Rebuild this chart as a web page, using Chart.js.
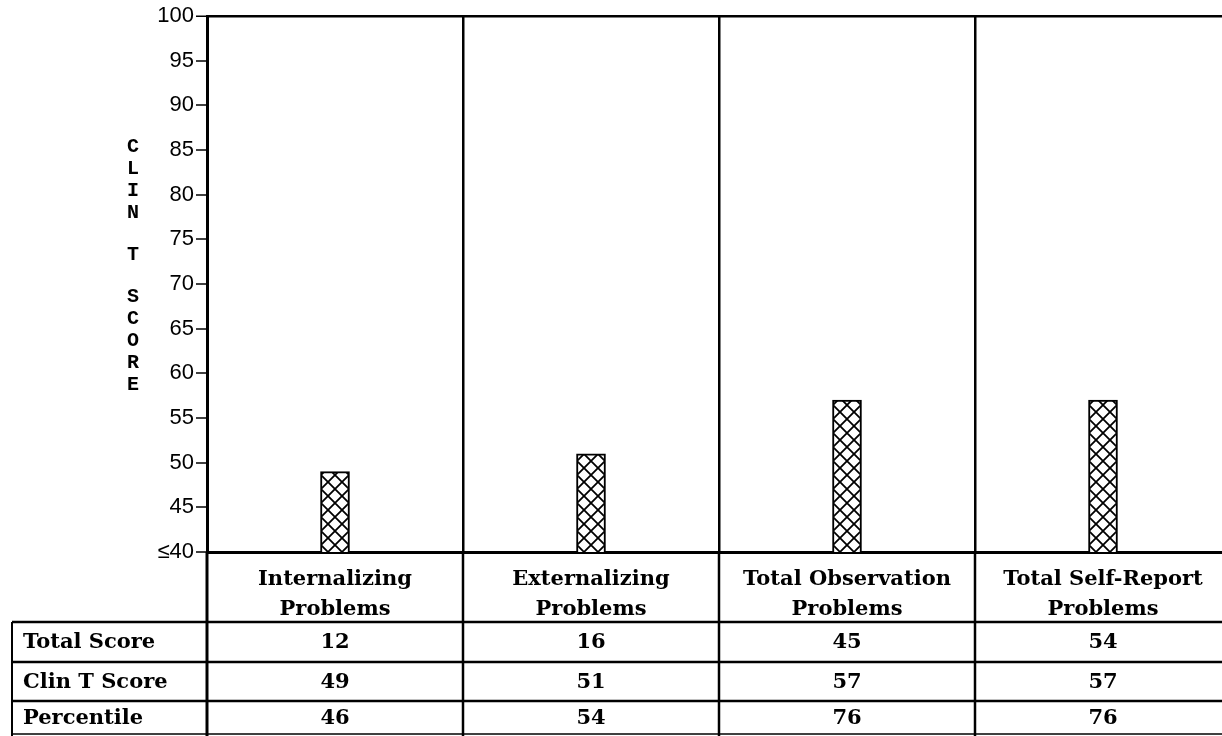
<!DOCTYPE html>
<html>
<head>
<meta charset="utf-8">
<script src="https://cdn.jsdelivr.net/npm/chart.js@4/dist/chart.umd.min.js"></script>
<style>
  html, body { margin: 0; padding: 0; background: #fff; overflow: hidden; }
  #wrap { width: 1231px; height: 736px; position: relative; }
</style>
</head>
<body>
<div id="wrap"><canvas id="chart"></canvas></div>
<script>
// chart data
const categories = [
  ["Internalizing", "Problems"],
  ["Externalizing", "Problems"],
  ["Total Observation", "Problems"],
  ["Total Self-Report", "Problems"]
];
const clinTScores = [49, 51, 57, 57];
const totalScores = [12, 16, 45, 54];
const percentiles = [46, 54, 76, 76];
const rowLabels = ["Total Score", "Clin T Score", "Percentile"];
const yTitle = "CLIN T SCORE";
const yMin = 40;
const yMax = 100;
const yStep = 5;

const serifBold = "bold 21px 'DejaVu Serif'";

// cross hatch tile for the bars
const hatch = document.createElement("canvas");
hatch.width = 14;
hatch.height = 14;
(function () {
  const g = hatch.getContext("2d");
  g.fillStyle = "#fff";
  g.fillRect(0, 0, 14, 14);
  g.strokeStyle = "#000";
  g.lineWidth = 1.8;
  g.beginPath();
  g.moveTo(0, 0); g.lineTo(14, 14);
  g.moveTo(14, 0); g.lineTo(0, 14);
  g.stroke();
})();

const hatchFill = (c) => {
  const chart = c.chart;
  const p = chart.ctx.createPattern(hatch, "repeat");
  if (c.type === "data" && chart.scales.x && chart.chartArea) {
    const x = chart.scales.x.getPixelForValue(c.dataIndex);
    p.setTransform(new DOMMatrix([1, 0, 0, 1, x - 7, chart.chartArea.bottom]));
  }
  return p;
};

// extra drawing: divider extensions, score table, stacked y title
const extras = {
  id: "extras",
  afterDraw(chart) {
    const ctx = chart.ctx;
    const area = chart.chartArea;
    const xs = chart.scales.x;
    const H = chart.height;
    const W = chart.width;
    const step = xs.getPixelForValue(1) - xs.getPixelForValue(0);

    ctx.save();
    ctx.strokeStyle = "#000";

    // dividers continue below the axis
    for (let i = 0; i <= categories.length; i++) {
      const x = xs.getPixelForValue(i) - step / 2;
      ctx.lineWidth = i === 0 ? 3 : 2.5;
      ctx.beginPath();
      ctx.moveTo(x, area.bottom);
      ctx.lineTo(x, H);
      ctx.stroke();
    }

    // table
    const left = 12;
    const top = area.bottom + 70;
    const rowH = [40, 39, 33];
    const rows = [totalScores, clinTScores, percentiles];
    let y = top;
    ctx.lineWidth = 2.5;
    ctx.beginPath();
    ctx.moveTo(left, top);
    ctx.lineTo(W, top);
    ctx.stroke();
    ctx.lineWidth = 2;
    ctx.beginPath();
    ctx.moveTo(left, top);
    ctx.lineTo(left, H);
    ctx.stroke();

    ctx.fillStyle = "#000";
    ctx.font = serifBold;
    ctx.textBaseline = "middle";
    rows.forEach((vals, r) => {
      const mid = y + rowH[r] / 2 + 1;
      ctx.textAlign = "left";
      ctx.fillText(rowLabels[r], left + 11, mid);
      ctx.textAlign = "center";
      vals.forEach((v, i) => ctx.fillText(String(v), xs.getPixelForValue(i), mid));
      y += rowH[r];
      ctx.lineWidth = r === rows.length - 1 ? 1.5 : 2.5;
      ctx.beginPath();
      ctx.moveTo(left, y);
      ctx.lineTo(W, y);
      ctx.stroke();
    });

    // stacked y axis title
    ctx.font = "bold 20px 'Liberation Mono'";
    ctx.textAlign = "center";
    let ty = 147;
    for (const ch of yTitle) {
      if (ch === " ") { ty += 20; continue; }
      ctx.fillText(ch, 133, ty);
      ty += 22;
    }
    ctx.restore();
  }
};

new Chart(document.getElementById("chart"), {
  type: "bar",
  data: {
    labels: categories,
    datasets: [{
      data: clinTScores,
      backgroundColor: hatchFill,
      borderColor: "#000",
      borderWidth: 2,
      borderSkipped: false,
      barThickness: 29
    }]
  },
  options: {
    responsive: true,
    maintainAspectRatio: false,
    animation: false,
    layout: { padding: { top: 16, left: 0, right: 0, bottom: 0 } },
    plugins: {
      legend: { display: false },
      tooltip: { enabled: false }
    },
    scales: {
      x: {
        afterFit: (s) => { s.height = 184; },
        border: { display: true, color: "#000", width: 3 },
        grid: {
          offset: true,
          color: "#000",
          lineWidth: 2.5,
          drawTicks: false
        },
        ticks: {
          color: "#000",
          padding: 13,
          font: { family: "DejaVu Serif", size: 21, weight: "bold", lineHeight: 1.43 },
          maxRotation: 0,
          autoSkip: false
        }
      },
      y: {
        min: yMin,
        max: yMax,
        afterFit: (s) => { s.width = 207; },
        border: { display: true, color: "#000", width: 3 },
        grid: {
          drawOnChartArea: true,
          color: (c) => (c.tick && c.tick.value === yMax ? "#000" : "rgba(0,0,0,0)"),
          lineWidth: (c) => (c.tick && c.tick.value === yMax ? 2.5 : 0),
          tickColor: "#000",
          tickWidth: 1.5,
          tickLength: 11
        },
        ticks: {
          stepSize: yStep,
          color: "#000",
          padding: 2,
          font: { family: "Liberation Sans", size: 22 },
          callback: (v) => (v === yMin ? "\u2264" + v : v)
        }
      }
    }
  },
  plugins: [extras]
});
</script>
</body>
</html>
